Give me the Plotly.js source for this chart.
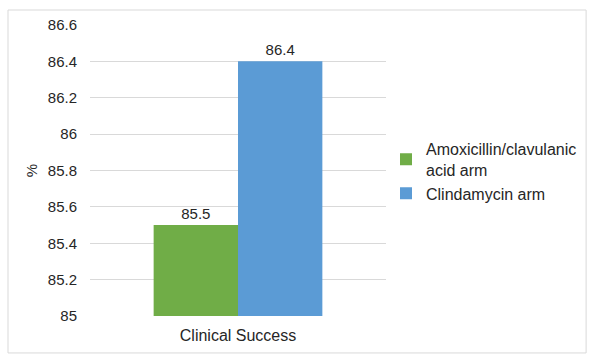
<!DOCTYPE html>
<html><head><meta charset="utf-8">
<script src="https://cdn.plot.ly/plotly-3.0.1.min.js"></script>
<style>html,body{margin:0;padding:0;background:#fff}</style>
</head><body>
<div id="chart" style="width:594px;height:360px"></div>
<script>
const categories = ["Clinical Success"];
const seriesNames = ["Amoxicillin/clavulanic<br>acid arm", "Clindamycin arm"];
const amoxValues = [85.5];
const clindaValues = [86.4];
const yTicks = [85, 85.2, 85.4, 85.6, 85.8, 86, 86.2, 86.4, 86.6];
const yTickLabels = ["85", "85.2", "85.4", "85.6", "85.8", "86", "86.2", "86.4", "86.6"];

const font = {family: "Liberation Sans, Arial, sans-serif", size: 14, color: "#404040"};
const traces = [
  {type: "bar", name: seriesNames[0], x: categories, y: amoxValues,
   marker: {color: "#70AD47"}, text: amoxValues.map(String), textposition: "outside",
   textfont: {size: 15, color: "#262626"}, cliponaxis: false},
  {type: "bar", name: seriesNames[1], x: categories, y: clindaValues,
   marker: {color: "#5B9BD5"}, text: clindaValues.map(String), textposition: "outside",
   textfont: {size: 15, color: "#262626"}, cliponaxis: false}
];
const layout = {
  width: 594, height: 360,
  margin: {l: 90, r: 208, t: 25, b: 44, autoexpand: false},
  font: font,
  paper_bgcolor: "#fff", plot_bgcolor: "#fff",
  barmode: "group", bargap: 0.43, bargroupgap: 0,
  showlegend: true,
  legend: {x: 1.0, xanchor: "left", y: 0.497, yanchor: "middle",
    bgcolor: "rgba(0,0,0,0)",
    font: {size: 16, color: "#262626"}, itemwidth: 30, tracegroupgap: 2},
  xaxis: {showline: false, ticks: "", automargin: false, ticklabelstandoff: 8,
    tickfont: {size: 16, color: "#262626"}},
  yaxis: {range: [85, 86.6], tickvals: yTicks, ticktext: yTickLabels, automargin: false,
    showgrid: true, gridcolor: "#d9d9d9", zeroline: false, showline: false,
    ticks: "", ticklen: 0, ticklabelstandoff: 12, tickfont: {size: 15, color: "#262626"},
    title: {text: "%", font: {size: 15, color: "#262626"}, standoff: 6}},
  shapes: [{type: "rect", xref: "paper", yref: "paper",
    x0: -0.277, x1: 1.676, y0: -0.127, y1: 1.0515,
    line: {color: "#d9d9d9", width: 1}, fillcolor: "rgba(0,0,0,0)", layer: "below"}]
};
Plotly.newPlot("chart", traces, layout, {displayModeBar: false, staticPlot: true});
</script>
</body></html>
